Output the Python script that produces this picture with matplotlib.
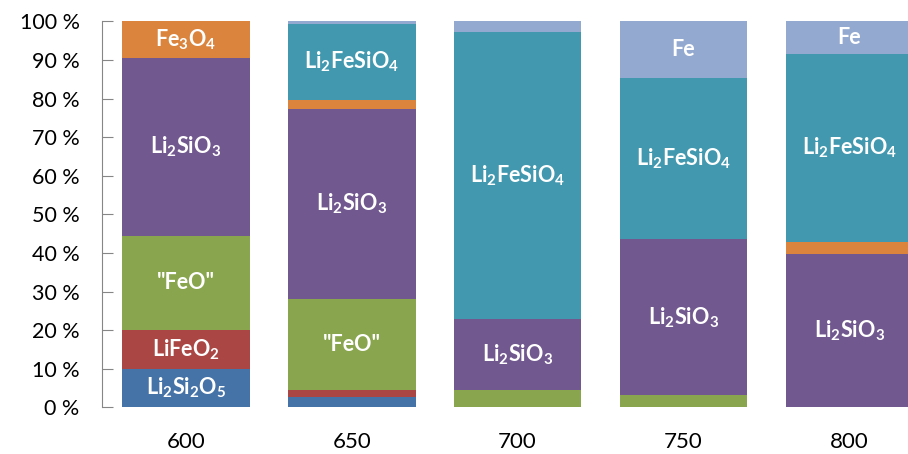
import numpy as np
import matplotlib
matplotlib.use("Agg")
import matplotlib.pyplot as plt

plt.rcParams['font.family'] = ['Lato', 'DejaVu Sans']
plt.rcParams['mathtext.fontset'] = 'custom'
plt.rcParams['mathtext.rm'] = 'Lato'
plt.rcParams['mathtext.bf'] = 'Lato:bold'
plt.rcParams['mathtext.it'] = 'Lato:italic'

# Phase fractions (%) at each temperature
temps = ['600', '650', '700', '750', '800']
li2si2o5 = [10.0, 2.6, 0.0, 0.0, 0.0]
lifeo2 = [10.0, 2.0, 0.0, 0.0, 0.0]
feo = [24.5, 23.5, 4.5, 3.1, 0.0]
li2sio3 = [46.1, 49.1, 18.4, 40.4, 39.6]
fe3o4 = [9.4, 2.4, 0.0, 0.0, 3.3]
li2fesio4 = [0.0, 19.7, 74.25, 41.9, 48.55]
fe = [0.0, 0.7, 2.85, 14.6, 8.55]

series = [li2si2o5, lifeo2, feo, li2sio3, fe3o4, li2fesio4, fe]
colors = ['#4572A7', '#AA4643', '#89A54E', '#71588F', '#DB843D', '#4198AF', '#93A9CF']

# Label text shown inside segments (None = no label)
L_SI2 = r'$\mathbf{Li_2Si_2O_5}$'
L_LFO = r'$\mathbf{LiFeO_2}$'
L_FEO = '"FeO"'
L_LSO = r'$\mathbf{Li_2SiO_3}$'
L_F34 = r'$\mathbf{Fe_3O_4}$'
L_LFS = r'$\mathbf{Li_2FeSiO_4}$'
L_FE = 'Fe'
seg_labels = [
    [L_SI2, None, None, None, None],
    [L_LFO, None, None, None, None],
    [L_FEO, L_FEO, None, None, None],
    [L_LSO, L_LSO, L_LSO, L_LSO, L_LSO],
    [L_F34, None, None, None, None],
    [None, L_LFS, L_LFS, L_LFS, L_LFS],
    [None, None, None, L_FE, L_FE],
]

fig = plt.figure(figsize=(9.08, 4.54), dpi=100)
ax = fig.add_axes([0.1123, 0.1029, 0.9155, 0.850])

x = np.arange(len(temps))
bottom = np.zeros(len(temps))
for vals, col, labs in zip(series, colors, seg_labels):
    vals = np.array(vals)
    ax.bar(x, vals, 0.77, bottom=bottom, color=col, linewidth=0)
    for i, lab in enumerate(labs):
        if lab:
            ax.text(x[i], bottom[i] + vals[i] / 2, lab, ha='center', va='center',
                    color='white', fontsize=15.5, fontweight='bold')
    bottom += vals

ax.set_xlim(-0.505, 4.505)
ax.set_ylim(0, 100)
ax.set_yticks(np.arange(0, 101, 10))
ax.set_yticklabels([f'{v} %' for v in range(0, 101, 10)], fontsize=15.5)
ax.set_xticks(x)
ax.set_xticklabels(temps, fontsize=16)

for s in ['top', 'right', 'bottom']:
    ax.spines[s].set_visible(False)
ax.spines['left'].set_color('#868686')
ax.tick_params(axis='y', direction='in', length=8, color='#868686', pad=16)
ax.tick_params(axis='x', length=0, pad=18)

fig.savefig('out.png', dpi=100)
